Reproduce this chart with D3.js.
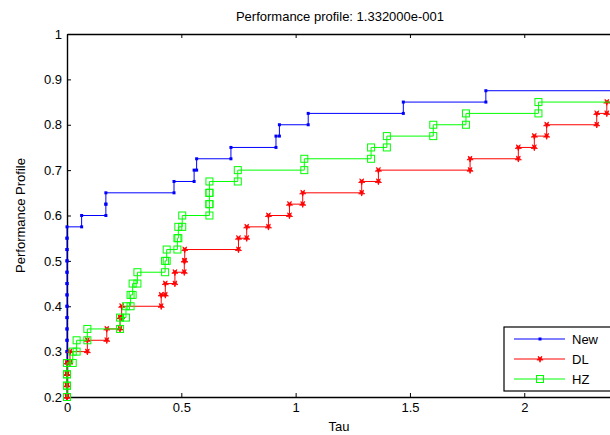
<!DOCTYPE html>
<html>
<head>
<meta charset="utf-8">
<script src="https://cdn.jsdelivr.net/npm/d3@7"></script>
<style>
  body { margin: 0; background: #fff; }
  svg { display: block; font-family: Arial, "Liberation Sans", sans-serif; }
</style>
</head>
<body>
<svg></svg>
<script>
//step points of each profile: tau where the curve jumps to rho
let newTau = [0, 0, 0, 0, 0, 0, 0, 0, 0, 0, 0, 0, 0, 0, 0, 0, 0.064, 0.17, 0.17, 0.468, 0.556, 0.567, 0.717, 0.914, 0.929, 1.055, 1.471, 1.832];
let newRho = [0.2, 0.225, 0.25, 0.275, 0.3, 0.325, 0.35, 0.375, 0.4, 0.425, 0.45, 0.475, 0.5, 0.525, 0.55, 0.575, 0.6, 0.625, 0.65, 0.675, 0.7, 0.725, 0.75, 0.775, 0.8, 0.825, 0.85, 0.875];

let dlTau = [0, 0, 0, 0, 0.013, 0.089, 0.174, 0.232, 0.239, 0.412, 0.43, 0.472, 0.513, 0.515, 0.75, 0.786, 0.881, 0.973, 1.031, 1.289, 1.362, 1.763, 1.974, 2.044, 2.098, 2.317, 2.361];
let dlRho = [0.2, 0.225, 0.25, 0.275, 0.3, 0.325, 0.35, 0.375, 0.4, 0.425, 0.45, 0.475, 0.5, 0.525, 0.55, 0.575, 0.6, 0.625, 0.65, 0.675, 0.7, 0.725, 0.75, 0.775, 0.8, 0.825, 0.85];

let hzTau = [0, 0, 0, 0, 0.025, 0.042, 0.089, 0.232, 0.258, 0.278, 0.287, 0.308, 0.429, 0.436, 0.483, 0.487, 0.504, 0.623, 0.623, 0.623, 0.747, 1.038, 1.33, 1.399, 1.602, 1.745, 2.062];
let hzRho = [0.2, 0.225, 0.25, 0.275, 0.3, 0.325, 0.35, 0.375, 0.4, 0.425, 0.45, 0.475, 0.5, 0.525, 0.55, 0.575, 0.6, 0.625, 0.65, 0.675, 0.7, 0.725, 0.75, 0.775, 0.8, 0.825, 0.85];

let seriesNames = ['New', 'DL', 'HZ'];
let xTicks = [0, 0.5, 1, 1.5, 2];
let yTicks = [0.2, 0.3, 0.4, 0.5, 0.6, 0.7, 0.8, 0.9, 1];

let titleText = 'Performance profile: 1.332000e-001';

let svg = d3.select('svg');

let width = 610;
let height = 435;
let plotLeft = 67;
let plotTop = 34;
let plotBottom = 397;

let colors = ['#0000ff', '#ff0000', '#00ff00'];
let series = [
    {name: seriesNames[0], tau: newTau, rho: newRho, color: colors[0], marker: 'dot'},
    {name: seriesNames[1], tau: dlTau, rho: dlRho, color: colors[1], marker: 'star'},
    {name: seriesNames[2], tau: hzTau, rho: hzRho, color: colors[2], marker: 'square'}
];

svg.attr('width', width).attr('height', height);

let xScale = d3.scaleLinear().domain([0, 2.375]).range([plotLeft, width]);
let yScale = d3.scaleLinear().domain([0.2, 1]).range([plotBottom, plotTop]);

//axes, ticks pointing into the plot like matlab
let fmt = d3.format('');
svg.append('g')
    .attr('transform', 'translate(0,' + plotBottom + ')')
    .call(d3.axisBottom(xScale).tickValues(xTicks).tickFormat(fmt).tickSizeInner(-4).tickSizeOuter(0).tickPadding(6));
svg.append('g')
    .attr('transform', 'translate(0,' + plotTop + ')')
    .call(d3.axisTop(xScale).tickValues(xTicks).tickFormat('').tickSizeInner(-4).tickSizeOuter(0));
svg.append('g')
    .attr('transform', 'translate(' + plotLeft + ',0)')
    .call(d3.axisLeft(yScale).tickValues(yTicks).tickFormat(fmt).tickSizeInner(-4).tickSizeOuter(0).tickPadding(5));

svg.selectAll('.tick text').attr('font-size', 13).attr('font-family', 'Arial, "Liberation Sans", sans-serif').attr('fill', '#000');
svg.selectAll('.domain').attr('stroke', '#000').attr('stroke-width', 1.4);
svg.selectAll('.tick line').attr('stroke', '#000');

//stairs vertices, markers sit on every corner
let stairs = (s) => {
    let pts = [];
    for (let i = 0; i < s.tau.length; i++) {
        pts.push([s.tau[i], s.rho[i]]);
        let next = i + 1 < s.tau.length ? s.tau[i + 1] : xScale.domain()[1];
        pts.push([next, s.rho[i]]);
    }
    return pts;
};

let line = d3.line().x(d => xScale(d[0])).y(d => yScale(d[1]));

let drawMarker = (g, shape, color, x, y) => {
    if (shape === 'dot') {
        g.append('rect').attr('x', x - 1.5).attr('y', y - 1.5).attr('width', 3).attr('height', 3).attr('fill', color);
    } else if (shape === 'star') {
        g.append('path').attr('d', d3.symbol(d3.symbolStar, 12)())
            .attr('transform', 'translate(' + x + ',' + y + ') rotate(180)')
            .attr('fill', color).attr('stroke', color).attr('stroke-width', 0.8);
    } else {
        g.append('rect').attr('x', x - 3.5).attr('y', y - 3.5).attr('width', 7).attr('height', 7)
            .attr('fill', 'none').attr('stroke', color).attr('stroke-width', 1);
    }
};

let plot = svg.append('g');
series.forEach(s => {
    let pts = stairs(s);
    plot.append('path').attr('d', line(pts)).attr('fill', 'none').attr('stroke', s.color).attr('stroke-width', 1);
    let mg = plot.append('g');
    pts.slice(0, -1).forEach(p => drawMarker(mg, s.marker, s.color, xScale(p[0]), yScale(p[1])));
});

//title and axis labels
svg.append('text').attr('x', 340).attr('y', 21).attr('text-anchor', 'middle').attr('font-size', 13).text(titleText);
svg.append('text').attr('x', 339).attr('y', 431).attr('text-anchor', 'middle').attr('font-size', 13).text('Tau');
svg.append('text').attr('transform', 'translate(25,' + ((plotTop + plotBottom) / 2) + ') rotate(-90)')
    .attr('text-anchor', 'middle').attr('font-size', 13).text('Performance Profile');

//legend box
let legend = svg.append('g');
legend.append('rect').attr('x', 504).attr('y', 327).attr('width', 110).attr('height', 64)
    .attr('fill', '#fff').attr('stroke', '#000').attr('stroke-width', 1.2);
series.forEach((s, i) => {
    let y = 339 + i * 20;
    legend.append('line').attr('x1', 514).attr('x2', 565).attr('y1', y).attr('y2', y).attr('stroke', s.color).attr('stroke-width', 1);
    drawMarker(legend, s.marker, s.color, 540, y);
    legend.append('text').attr('x', 572).attr('y', y + 5).attr('font-size', 13).text(s.name);
});
</script>
</body>
</html>
